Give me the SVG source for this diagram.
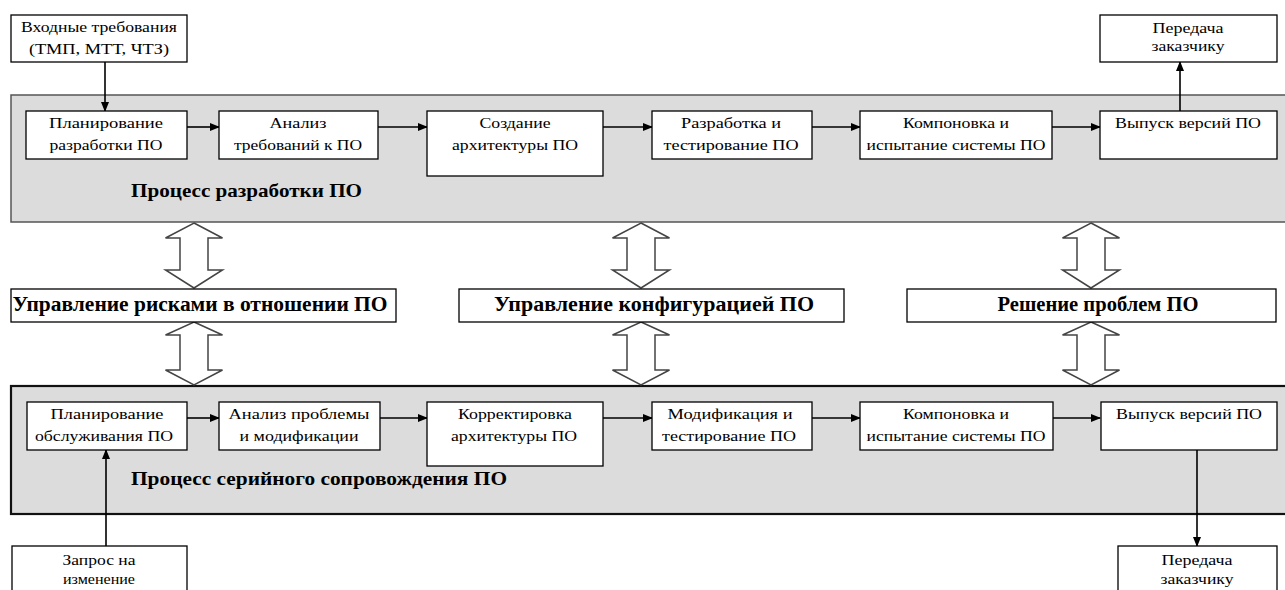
<svg xmlns="http://www.w3.org/2000/svg" width="1285" height="590" viewBox="0 0 1285 590">
<defs>
<marker id="ah" markerWidth="10" markerHeight="8" refX="9" refY="4" orient="auto" markerUnits="userSpaceOnUse">
<path d="M0,0 L10,4 L0,8 Z" fill="#000"/>
</marker>
<style>
.panelTop{fill:#dcdcdc;stroke:#555;stroke-width:1.5}
.panelBot{fill:#dcdcdc;stroke:#111;stroke-width:2.2}
.box{fill:#fff;stroke:#000;stroke-width:1.3}
text{font-family:'Liberation Serif','DejaVu Serif','Times New Roman',serif;fill:#000}
.t{font-size:15px;text-anchor:middle}
.s{font-size:14px;text-anchor:middle}
.b{font-size:19px;font-weight:bold}
.bm{font-size:20px;font-weight:bold;text-anchor:middle}
.ln{stroke:#000;stroke-width:1.6;fill:none}
.dbl{fill:#fff;stroke:#444;stroke-width:1.5;stroke-linejoin:miter}
</style>
</defs>

<rect width="1285" height="590" fill="#fff"/>

<g id="panel-dev">
<rect class="panelTop" x="11" y="95" width="1285" height="127"/>
<text class="b" x="131" y="197" textLength="231" lengthAdjust="spacingAndGlyphs">Процесс разработки ПО</text>
</g>
<g id="panel-maint">
<rect class="panelBot" x="11" y="386" width="1285" height="128"/>
<text class="b" x="131" y="485" textLength="376" lengthAdjust="spacingAndGlyphs">Процесс серийного сопровождения ПО</text>
</g>

<g id="connectors">
<line class="ln" x1="105" y1="62" x2="105" y2="111" marker-end="url(#ah)"/>
<line class="ln" x1="187" y1="127" x2="219" y2="127" marker-end="url(#ah)"/>
<line class="ln" x1="378" y1="127" x2="427" y2="127" marker-end="url(#ah)"/>
<line class="ln" x1="603" y1="127" x2="652" y2="127" marker-end="url(#ah)"/>
<line class="ln" x1="812" y1="127" x2="860" y2="127" marker-end="url(#ah)"/>
<line class="ln" x1="1052" y1="127" x2="1100" y2="127" marker-end="url(#ah)"/>
<line class="ln" x1="1180" y1="111" x2="1180" y2="62" marker-end="url(#ah)"/>

<line class="ln" x1="187" y1="418" x2="219" y2="418" marker-end="url(#ah)"/>
<line class="ln" x1="380" y1="418" x2="427" y2="418" marker-end="url(#ah)"/>
<line class="ln" x1="603" y1="418" x2="652" y2="418" marker-end="url(#ah)"/>
<line class="ln" x1="812" y1="418" x2="860" y2="418" marker-end="url(#ah)"/>
<line class="ln" x1="1052" y1="418" x2="1100" y2="418" marker-end="url(#ah)"/>
<line class="ln" x1="106" y1="546" x2="106" y2="450" marker-end="url(#ah)"/>
<line class="ln" x1="1197" y1="450" x2="1197" y2="546" marker-end="url(#ah)"/>

<path class="dbl" d="M194,223 L222.5,238 L208,238 L208,270 L222.5,270 L194,288 L165.5,270 L180,270 L180,238 L165.5,238 Z"/>
<path class="dbl" d="M194,322 L222.5,335 L208,335 L208,370 L222.5,370 L194,385 L165.5,370 L180,370 L180,335 L165.5,335 Z"/>
<path class="dbl" d="M641,223 L669.5,238 L655,238 L655,270 L669.5,270 L641,288 L612.5,270 L627,270 L627,238 L612.5,238 Z"/>
<path class="dbl" d="M641,322 L669.5,335 L655,335 L655,370 L669.5,370 L641,385 L612.5,370 L627,370 L627,335 L612.5,335 Z"/>
<path class="dbl" d="M1091,223 L1119.5,238 L1105,238 L1105,270 L1119.5,270 L1091,288 L1062.5,270 L1077,270 L1077,238 L1062.5,238 Z"/>
<path class="dbl" d="M1091,322 L1119.5,335 L1105,335 L1105,370 L1119.5,370 L1091,385 L1062.5,370 L1077,370 L1077,335 L1062.5,335 Z"/>
</g>

<g id="input-req">
<rect class="box" x="11" y="15" width="176" height="47"/>
<text class="t" x="99" y="32" textLength="156" lengthAdjust="spacingAndGlyphs">Входные требования</text>
<text class="t" x="99" y="54" textLength="140" lengthAdjust="spacingAndGlyphs">(ТМП, МТТ, ЧТЗ)</text>
</g>
<g id="deliver-top">
<rect class="box" x="1100" y="15" width="177" height="47"/>
<text class="s" x="1188" y="33" textLength="71" lengthAdjust="spacingAndGlyphs">Передача</text>
<text class="s" x="1188" y="51" textLength="73" lengthAdjust="spacingAndGlyphs">заказчику</text>
</g>

<g id="dev-plan">
<rect class="box" x="26" y="111" width="161" height="48"/>
<text class="t" x="106" y="128" textLength="114" lengthAdjust="spacingAndGlyphs">Планирование</text>
<text class="t" x="106" y="150" textLength="113" lengthAdjust="spacingAndGlyphs">разработки ПО</text>
</g>
<g id="dev-analysis">
<rect class="box" x="219" y="111" width="159" height="48"/>
<text class="t" x="298" y="128" textLength="57" lengthAdjust="spacingAndGlyphs">Анализ</text>
<text class="t" x="298" y="150" textLength="128" lengthAdjust="spacingAndGlyphs">требований к ПО</text>
</g>
<g id="dev-arch">
<rect class="box" x="427" y="111" width="176" height="65"/>
<text class="t" x="515" y="128" textLength="71" lengthAdjust="spacingAndGlyphs">Создание</text>
<text class="t" x="515" y="150" textLength="126" lengthAdjust="spacingAndGlyphs">архитектуры ПО</text>
</g>
<g id="dev-build">
<rect class="box" x="652" y="111" width="160" height="48"/>
<text class="t" x="731" y="128" textLength="100" lengthAdjust="spacingAndGlyphs">Разработка и</text>
<text class="t" x="731" y="150" textLength="135" lengthAdjust="spacingAndGlyphs">тестирование ПО</text>
</g>
<g id="dev-integr">
<rect class="box" x="860" y="111" width="192" height="48"/>
<text class="t" x="956" y="128" textLength="106" lengthAdjust="spacingAndGlyphs">Компоновка и</text>
<text class="t" x="956" y="150" textLength="179" lengthAdjust="spacingAndGlyphs">испытание системы ПО</text>
</g>
<g id="dev-release">
<rect class="box" x="1100" y="111" width="177" height="48"/>
<text class="t" x="1188" y="128" textLength="146" lengthAdjust="spacingAndGlyphs">Выпуск версий ПО</text>
</g>

<g id="risk">
<rect class="box" x="11" y="289" width="385" height="33"/>
<text class="bm" x="200" y="311" textLength="375" lengthAdjust="spacingAndGlyphs">Управление рисками в отношении ПО</text>
</g>
<g id="config">
<rect class="box" x="459" y="289" width="385" height="33"/>
<text class="bm" x="654" y="311" textLength="320" lengthAdjust="spacingAndGlyphs">Управление конфигурацией ПО</text>
</g>
<g id="problems">
<rect class="box" x="907" y="289" width="369" height="33"/>
<text class="bm" x="1098" y="311" textLength="201" lengthAdjust="spacingAndGlyphs">Решение проблем ПО</text>
</g>

<g id="m-plan">
<rect class="box" x="27" y="402" width="160" height="48"/>
<text class="t" x="107" y="419" textLength="113" lengthAdjust="spacingAndGlyphs">Планирование</text>
<text class="t" x="104" y="441" textLength="138" lengthAdjust="spacingAndGlyphs">обслуживания ПО</text>
</g>
<g id="m-analysis">
<rect class="box" x="219" y="402" width="161" height="48"/>
<text class="t" x="299" y="419" textLength="141" lengthAdjust="spacingAndGlyphs">Анализ проблемы</text>
<text class="t" x="299" y="441" textLength="119" lengthAdjust="spacingAndGlyphs">и модификации</text>
</g>
<g id="m-arch">
<rect class="box" x="427" y="402" width="176" height="64"/>
<text class="t" x="515" y="419" textLength="114" lengthAdjust="spacingAndGlyphs">Корректировка</text>
<text class="t" x="514" y="441" textLength="126" lengthAdjust="spacingAndGlyphs">архитектуры ПО</text>
</g>
<g id="m-mod">
<rect class="box" x="652" y="402" width="160" height="48"/>
<text class="t" x="730" y="419" textLength="125" lengthAdjust="spacingAndGlyphs">Модификация и</text>
<text class="t" x="729" y="441" textLength="134" lengthAdjust="spacingAndGlyphs">тестирование ПО</text>
</g>
<g id="m-integr">
<rect class="box" x="860" y="402" width="193" height="48"/>
<text class="t" x="956" y="419" textLength="106" lengthAdjust="spacingAndGlyphs">Компоновка и</text>
<text class="t" x="956" y="441" textLength="179" lengthAdjust="spacingAndGlyphs">испытание системы ПО</text>
</g>
<g id="m-release">
<rect class="box" x="1101" y="402" width="176" height="48"/>
<text class="t" x="1189" y="419" textLength="146" lengthAdjust="spacingAndGlyphs">Выпуск версий ПО</text>
</g>

<g id="change-req">
<rect class="box" x="12" y="546" width="175" height="60"/>
<text class="s" x="99" y="565" textLength="73" lengthAdjust="spacingAndGlyphs">Запрос на</text>
<text class="s" x="99" y="584" textLength="72" lengthAdjust="spacingAndGlyphs">изменение</text>
</g>
<g id="deliver-bot">
<rect class="box" x="1118" y="546" width="159" height="60"/>
<text class="s" x="1197" y="565" textLength="71" lengthAdjust="spacingAndGlyphs">Передача</text>
<text class="s" x="1197" y="584" textLength="73" lengthAdjust="spacingAndGlyphs">заказчику</text>
</g>
</svg>
